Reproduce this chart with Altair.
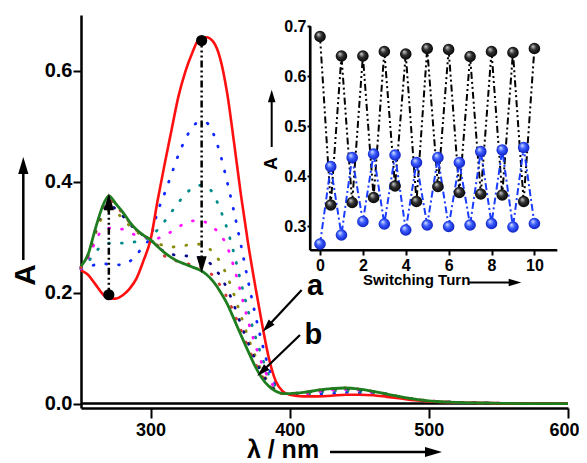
import altair as alt
import pandas as pd

# ---------------- main spectra (wavelength in nm, absorbance) ----------------
wl = [250, 255, 260, 265, 270, 275, 280, 285, 290, 295, 300, 305, 310, 315, 320,
      325, 330, 335, 340, 345, 350, 355, 360, 365, 370, 375, 380, 385, 390, 395,
      400, 410, 420, 430, 440, 450, 460, 470, 480, 490, 500, 520, 540, 570, 600]

red_a = [.240, .232, .216, .199, .189, .189, .195, .207, .226, .258, .295, .365, .430, .492, .553,
         .598, .632, .657, .660, .652, .622, .560, .470, .375, .290, .215, .145, .082, .040, .022,
         .016, .013, .013, .014, .016, .016, .015, .012, .009, .006, .004, .002, .001, 0, 0]

green_b = [.247, .268, .312, .352, .374, .360, .345, .327, .313, .303, .295, .283, .272, .263, .256,
           .251, .246, .241, .233, .220, .202, .180, .152, .123, .095, .068, .046, .031, .022, .018,
           .018, .020, .024, .027, .028, .026, .022, .017, .012, .008, .005, .002, .001, 0, 0]

dot_blue = [.242, .246, .250, .252, .251, .250, .250, .256, .268, .285, .300, .345, .378, .413, .448,
            .476, .498, .507, .506, .487, .450, .400, .345, .285, .222, .163, .110, .064, .034, .021,
            .017, .015, .017, .018, .020, .019, .017, .014, .010, .007, .004, .002, .001, 0, 0]

dot_teal = [.243, .255, .272, .284, .289, .289, .289, .290, .292, .296, .300, .313, .328, .345, .362,
            .377, .388, .393, .391, .378, .350, .315, .270, .218, .168, .123, .084, .051, .030, .020,
            .017, .017, .020, .022, .023, .022, .019, .015, .011, .007, .005, .002, .001, 0, 0]

dot_magenta = [.243, .262, .290, .312, .316, .315, .314, .308, .303, .300, .298, .298, .302, .310, .318,
               .325, .329, .330, .326, .317, .305, .283, .245, .198, .150, .108, .072, .045, .027, .019,
               .018, .018, .021, .024, .025, .024, .020, .016, .011, .007, .005, .002, .001, 0, 0]

dot_olive = [.245, .266, .303, .335, .348, .345, .333, .320, .309, .302, .296, .289, .284, .282, .283,
             .285, .287, .287, .283, .272, .255, .230, .196, .158, .120, .087, .058, .038, .024, .018,
             .018, .019, .023, .025, .026, .025, .021, .016, .012, .008, .005, .002, .001, 0, 0]

dot_navy = [.246, .267, .308, .345, .360, .350, .338, .324, .311, .303, .295, .282, .274, .269, .267,
            .266, .265, .263, .258, .247, .230, .207, .177, .142, .110, .080, .054, .036, .023, .018,
            .018, .020, .023, .026, .027, .025, .022, .017, .012, .008, .005, .002, .001, 0, 0]

dot_darkred = [.246, .268, .310, .350, .367, .357, .342, .326, .312, .303, .295, .285, .266, .259, .256,
               .253, .250, .247, .241, .230, .213, .191, .163, .132, .102, .074, .050, .033, .022, .018,
               .018, .020, .024, .027, .028, .026, .022, .017, .012, .008, .005, .002, .001, 0, 0]

# black double-arrows with end dots (wavelength, absorbance)
arrow_wl = [270.0, 336.7]
arrow_dot_A = [0.196, 0.654]
arrow_head_A = [0.3635, 0.250]

# ---------------- inset: switching cycles ----------------
turns = [0, 0.5, 1, 1.5, 2, 2.5, 3, 3.5, 4, 4.5, 5, 5.5, 6, 6.5, 7, 7.5, 8, 8.5, 9, 9.5, 10]
inset_black = [0.679, 0.342, 0.640, 0.347, 0.640, 0.357, 0.649, 0.380, 0.644, 0.349, 0.655,
               0.379, 0.653, 0.367, 0.639, 0.364, 0.649, 0.362, 0.647, 0.349, 0.655]
inset_blue = [0.264, 0.419, 0.282, 0.437, 0.309, 0.444, 0.304, 0.442, 0.292, 0.427, 0.302,
              0.437, 0.299, 0.427, 0.302, 0.449, 0.305, 0.452, 0.298, 0.457, 0.305]
inset_t_domain = [-0.467, 11.05]
inset_v_domain = [0.252, 0.70]

FONT = "Liberation Sans"
W, H = 487, 393

X_SCALE = alt.Scale(domain=[250, 600], nice=False, zero=False)
Y_SCALE = alt.Scale(domain=[-0.008, 0.70], nice=False, zero=False)

x_axis = alt.Axis(values=[300, 400, 500, 600], title=None, grid=False,
                  labelFont=FONT, labelFontSize=18, labelFontWeight="bold", labelColor="black",
                  domainColor="black", domainWidth=2.5, tickColor="black", tickWidth=2,
                  tickSize=10, labelPadding=3, labelFlush=True, labelFlushOffset=11)
y_axis = alt.Axis(values=[0, 0.2, 0.4, 0.6], format=".1f", title=None, grid=False,
                  labelFont=FONT, labelFontSize=20, labelFontWeight="bold", labelColor="black",
                  domainColor="black", domainWidth=2.5, tickColor="black", tickWidth=2,
                  tickSize=8, labelPadding=1, labelFlush=False)


def xe(f="wl"):
    return alt.X(f"{f}:Q", scale=X_SCALE, axis=x_axis)


def ye(f="A"):
    return alt.Y(f"{f}:Q", scale=Y_SCALE, axis=y_axis)


UP = "M0,-1L0.6,1L-0.6,1Z"
DOWN = "M0,1L0.6,-1L-0.6,-1Z"

layers = []
dotted = [(dot_blue, "#1028ff"), (dot_teal, "#008b8b"), (dot_magenta, "#ff10ff"),
          (dot_olive, "#8a8a10"), (dot_navy, "#0a0a8a"), (dot_darkred, "#d83838")]
for vals, col in dotted:
    layers.append(
        alt.Chart(pd.DataFrame({"wl": wl, "A": vals}))
        .mark_line(color=col, strokeWidth=2.8, strokeDash=[0.8, 12], strokeCap="round",
                   interpolate="monotone")
        .encode(x=xe(), y=ye())
    )

layers.append(
    alt.Chart(pd.DataFrame({"wl": [250, 600], "A": [0, 0]}))
    .mark_line(color="black", strokeWidth=2.5)
    .encode(x=xe(), y=ye())
)
layers.append(
    alt.Chart(pd.DataFrame({"wl": wl, "A": red_a}))
    .mark_line(color="#ff1010", strokeWidth=2.6, interpolate="monotone")
    .encode(x=xe(), y=ye())
)
layers.append(
    alt.Chart(pd.DataFrame({"wl": wl, "A": green_b}))
    .mark_line(color="#1e7d1e", strokeWidth=2.8, interpolate="monotone")
    .encode(x=xe(), y=ye())
)

arr = pd.DataFrame({"wl": arrow_wl, "A": arrow_dot_A, "A2": arrow_head_A})
layers.append(
    alt.Chart(arr).mark_rule(color="black", strokeWidth=2.5, strokeDash=[7, 3, 2, 3, 2, 3])
    .encode(x=xe(), y=ye(), y2=alt.Y2("A2:Q"))
)
layers.append(
    alt.Chart(arr).mark_circle(color="black", size=125, opacity=1).encode(x=xe(), y=ye())
)
layers.append(
    alt.Chart(pd.DataFrame({"wl": [arrow_wl[0]], "A": [arrow_head_A[0]]}))
    .mark_point(shape=UP, filled=True, color="black", size=290, opacity=1, strokeWidth=0)
    .encode(x=xe(), y=ye())
)
layers.append(
    alt.Chart(pd.DataFrame({"wl": [arrow_wl[1]], "A": [arrow_head_A[1]]}))
    .mark_point(shape=DOWN, filled=True, color="black", size=290, opacity=1, strokeWidth=0)
    .encode(x=xe(), y=ye())
)

# curve labels a / b with pointer arrows
lab = pd.DataFrame({"wl": [418.2, 417.0], "A": [0.1957, 0.1074], "t": ["a", "b"]})
layers.append(
    alt.Chart(lab).mark_text(font=FONT, fontSize=29, fontWeight="bold", color="black",
                             align="center", baseline="alphabetic")
    .encode(x=xe(), y=ye(), text="t:N")
)
ptr = pd.DataFrame({"wl": [408.6, 407.4], "A": [0.2046, 0.1236],
                    "wl2": [383.8, 380.1], "A2": [0.138, 0.0578], "ang": [223, 226]})
layers.append(
    alt.Chart(ptr).mark_rule(color="black", strokeWidth=2.2)
    .encode(x=xe(), y=ye(), x2=alt.X2("wl2:Q"), y2=alt.Y2("A2:Q"))
)
for i in range(2):
    layers.append(
        alt.Chart(ptr.iloc[[i]]).mark_point(shape=UP, filled=True, color="black", size=170,
                                            opacity=1, strokeWidth=0, angle=float(ptr["ang"][i]))
        .encode(x=alt.X("wl2:Q", scale=X_SCALE, axis=x_axis), y=alt.Y("A2:Q", scale=Y_SCALE, axis=y_axis))
    )

one = pd.DataFrame({"k": [0]})
# main axis titles with arrows
layers.append(alt.Chart(one).mark_text(text="A", font=FONT, fontSize=30, fontWeight="bold",
                                       angle=270, align="center", baseline="middle", color="black")
              .encode(x=alt.value(-55), y=alt.value(260)))
layers.append(alt.Chart(one).mark_rule(color="black", strokeWidth=2.5)
              .encode(x=alt.value(-57.7), y=alt.value(245), y2=alt.value(150)))
layers.append(alt.Chart(one).mark_point(shape=UP, filled=True, color="black", size=290,
                                        opacity=1, strokeWidth=0)
              .encode(x=alt.value(-57.7), y=alt.value(150.5)))
layers.append(alt.Chart(one).mark_text(text="λ / nm", font=FONT, fontSize=25, fontWeight="bold",
                                       align="center", baseline="alphabetic", color="black")
              .encode(x=alt.value(202), y=alt.value(443)))
layers.append(alt.Chart(one).mark_rule(color="black", strokeWidth=2.5)
              .encode(x=alt.value(249), x2=alt.value(353), y=alt.value(437)))
layers.append(alt.Chart(one).mark_point(shape=UP, filled=True, color="black", size=290,
                                        opacity=1, strokeWidth=0, angle=90)
              .encode(x=alt.value(352.5), y=alt.value(437)))

main = alt.layer(*layers)

# ---------------- inset ----------------
IX_SCALE = alt.Scale(domain=inset_t_domain, range=[229, 475.9], nice=False, zero=False)
IY_SCALE = alt.Scale(domain=inset_v_domain, range=[235, 11], nice=False, zero=False)
ix_axis = alt.Axis(orient="bottom", offset=-158, values=[0, 2, 4, 6, 8, 10], title=None,
                   grid=False, domain=True, labelFont=FONT, labelFontSize=16, labelFontWeight="bold",
                   labelColor="black", domainColor="black", domainWidth=2, tickColor="black",
                   tickWidth=2, tickSize=5, labelPadding=2, labelFlush=False)
iy_axis = alt.Axis(orient="left", offset=-229, values=[0.3, 0.4, 0.5, 0.6, 0.7], format=".1f",
                   title=None, grid=False, domain=True, labelFont=FONT, labelFontSize=16,
                   labelFontWeight="bold", labelColor="black", domainColor="black", domainWidth=2,
                   tickColor="black", tickWidth=2, tickSize=3, labelPadding=1, labelFlush=False)


def ixe(f="t"):
    return alt.X(f"{f}:Q", scale=IX_SCALE, axis=ix_axis)


def iye(f="v"):
    return alt.Y(f"{f}:Q", scale=IY_SCALE, axis=iy_axis)


blk = pd.DataFrame({"t": turns, "v": inset_black})
blu = pd.DataFrame({"t": turns, "v": inset_blue})
# inset frame lines (left and bottom edges of the inset's own scales)
frame = pd.DataFrame({"t": [inset_t_domain[0], inset_t_domain[0]],
                      "v": [inset_v_domain[0], inset_v_domain[0]],
                      "t2": [inset_t_domain[0], inset_t_domain[1]],
                      "v2": [inset_v_domain[1], inset_v_domain[0]]})

grad_black = alt.RadialGradient(gradient="radial", x1=0.35, y1=0.3, r1=0, x2=0.5, y2=0.5, r2=0.55,
                                stops=[alt.GradientStop(offset=0, color="#d8d8d8"),
                                       alt.GradientStop(offset=0.45, color="#303030"),
                                       alt.GradientStop(offset=1, color="#000000")])
grad_blue = alt.RadialGradient(gradient="radial", x1=0.35, y1=0.3, r1=0, x2=0.5, y2=0.5, r2=0.55,
                               stops=[alt.GradientStop(offset=0, color="#dfe8ff"),
                                      alt.GradientStop(offset=0.45, color="#3a5cff"),
                                      alt.GradientStop(offset=1, color="#0818b8")])

inset_layers = [
    alt.Chart(frame).mark_rule(color="black", strokeWidth=2.2)
    .encode(x=ixe(), y=iye(), x2=alt.X2("t2:Q"), y2=alt.Y2("v2:Q")),
    alt.Chart(blk).mark_line(color="black", strokeWidth=2, strokeDash=[7, 3, 2, 3, 2, 3])
    .encode(x=ixe(), y=iye()),
    alt.Chart(blu).mark_line(color="#1a3cff", strokeWidth=2, strokeDash=[7, 3, 2, 3])
    .encode(x=ixe(), y=iye()),
    alt.Chart(blk).mark_point(shape="circle", filled=True, fill=grad_black, size=135, opacity=1,
                              strokeWidth=0)
    .encode(x=ixe(), y=iye()),
    alt.Chart(blu).mark_point(shape="circle", filled=True, fill=grad_blue, size=135, opacity=1,
                              strokeWidth=0)
    .encode(x=ixe(), y=iye()),
    alt.Chart(one).mark_text(text="Switching Turn", font=FONT, fontSize=15, fontWeight="bold",
                             align="center", baseline="alphabetic", color="black")
    .encode(x=alt.value(335.7), y=alt.value(270)),
    alt.Chart(one).mark_rule(color="black", strokeWidth=2)
    .encode(x=alt.value(387), x2=alt.value(434), y=alt.value(267.5)),
    alt.Chart(one).mark_point(shape=UP, filled=True, color="black", size=160, opacity=1,
                              strokeWidth=0, angle=90)
    .encode(x=alt.value(434), y=alt.value(267.5)),
    alt.Chart(one).mark_text(text="A", font=FONT, fontSize=18, fontWeight="bold", angle=270,
                             align="center", baseline="middle", color="black")
    .encode(x=alt.value(190.7), y=alt.value(148.5)),
    alt.Chart(one).mark_rule(color="black", strokeWidth=2)
    .encode(x=alt.value(190.7), y=alt.value(132), y2=alt.value(81)),
    alt.Chart(one).mark_point(shape=UP, filled=True, color="black", size=160, opacity=1,
                              strokeWidth=0)
    .encode(x=alt.value(190.7), y=alt.value(81)),
]
inset = alt.layer(*inset_layers)

chart = (
    alt.layer(main, inset)
    .resolve_scale(x="independent", y="independent")
    .properties(width=W, height=H,
                padding={"left": 73, "top": 7, "right": 11, "bottom": 55},
                autosize=alt.AutoSizeParams(type="none"),
                background="white")
    .configure_view(stroke=None)
)

chart.save("out.html", embed_options={"renderer": "svg", "actions": False})
